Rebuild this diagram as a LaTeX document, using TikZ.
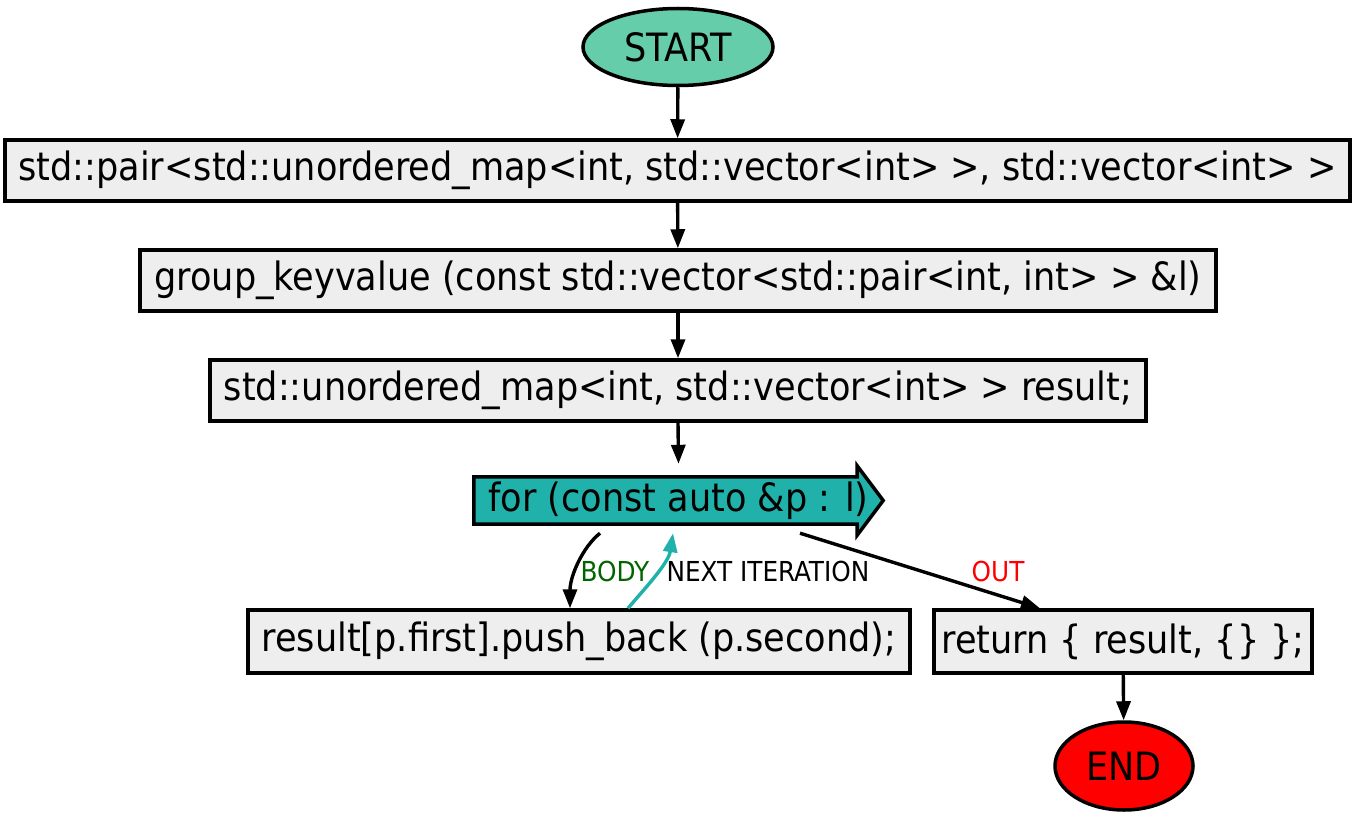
\documentclass[tikz,border=0pt]{standalone}
\usepackage{fontspec}
\setmainfont{DejaVu Sans Condensed}
\usetikzlibrary{shapes.geometric,arrows.meta,calc,backgrounds}
\definecolor{startfill}{HTML}{66CDAA}
\definecolor{loopfill}{HTML}{20B2AA}
\definecolor{boxfill}{HTML}{EEEEEE}
\definecolor{bodygreen}{HTML}{006400}
\begin{document}
\begin{tikzpicture}[x=1pt,y=-1pt,
  every node/.style={font=\fontsize{39}{45}\selectfont},
  term/.style={ellipse, draw, line width=3.5pt, inner sep=0pt},
  stmt/.style={rectangle, draw, line width=3.5pt, fill=boxfill, minimum height=61pt, inner sep=0pt},
  flow/.style={line width=3.4pt, -{Triangle[length=19pt,width=14pt]}},
  lbl/.style={font=\fontsize{27.5}{32}\selectfont, inner sep=1pt}]
\useasboundingbox (0,0) rectangle (1357,813);

% terminals and statements
\node[term, fill=startfill, minimum width=190pt, minimum height=77pt] (start) at (678,47) {START};
\node[stmt, minimum width=1345pt] (decl) at (677.5,170.5)
  {std::pair<std::unordered\_map<int, std::vector<int> >, std::vector<int> >};
\node[stmt, minimum width=1076pt] (func) at (678,280.5)
  {group\_keyvalue (const std::vector<std::pair<int, int> > \&l)};
\node[stmt, minimum width=936pt] (res) at (678,390.5)
  {std::unordered\_map<int, std::vector<int> > result;};

% loop header with arrow-shaped outline
\node[minimum width=409pt, minimum height=69pt, inner sep=0pt] (loop) at (678.5,500.5)
  {for (const auto \&p : l)};
\begin{scope}[on background layer]
  \filldraw[line width=3.5pt, fill=loopfill, line join=miter]
    ($(loop.north west)+(0,11)$) -- ($(loop.north east)+(-26,11)$)
    -- ($(loop.north east)+(-26,0)$) -- (loop.east)
    -- ($(loop.south east)+(-26,0)$) -- ($(loop.south east)+(-26,-11)$)
    -- ($(loop.south west)+(0,-11)$) -- cycle;
\end{scope}

\node[stmt, minimum width=662pt, minimum height=63pt] (push) at (579,641.5)
  {result[p.first].push\_back (p.second);};
\node[stmt, minimum width=378pt, minimum height=63pt] (ret) at (1123,641.5)
  {return \{ result, \{\} \};};
\node[term, fill=red, minimum width=138pt, minimum height=88pt] (end) at (1124,766) {END};

% straight flow
\draw[flow] (start) -- (decl);
\draw[flow] (decl) -- (func);
\draw[flow] (func) -- (res);
\draw[flow] (res.south) -- ($(loop.north)+(0,-2)$);
\draw[flow] (ret) -- (end);

% loop edges
\draw[flow] ($(loop.south)+(-78.5,-2)$) .. controls ($(loop.south)+(-96,12)$) and ($(push.north)+(-9,-32)$) .. ($(push.north)+(-9,0)$);
\draw[flow, loopfill] ($(push.north)+(49,0)$) .. controls ($(push.north)+(66,-20)$) and ($(loop.south)+(-10,28)$) .. ($(loop.south)+(-5.5,-2)$);
\draw[flow] ($(loop.south)+(121.5,-2)$) -- ($(ret.north)+(-83,0)$);

% edge labels
\node[lbl, text=bodygreen] (lbody) at (615,571) {BODY};
\node[lbl] (lnext) at (768,571) {NEXT ITERATION};
\node[lbl, text=red] (lout) at (998,571) {OUT};
\end{tikzpicture}
\end{document}
